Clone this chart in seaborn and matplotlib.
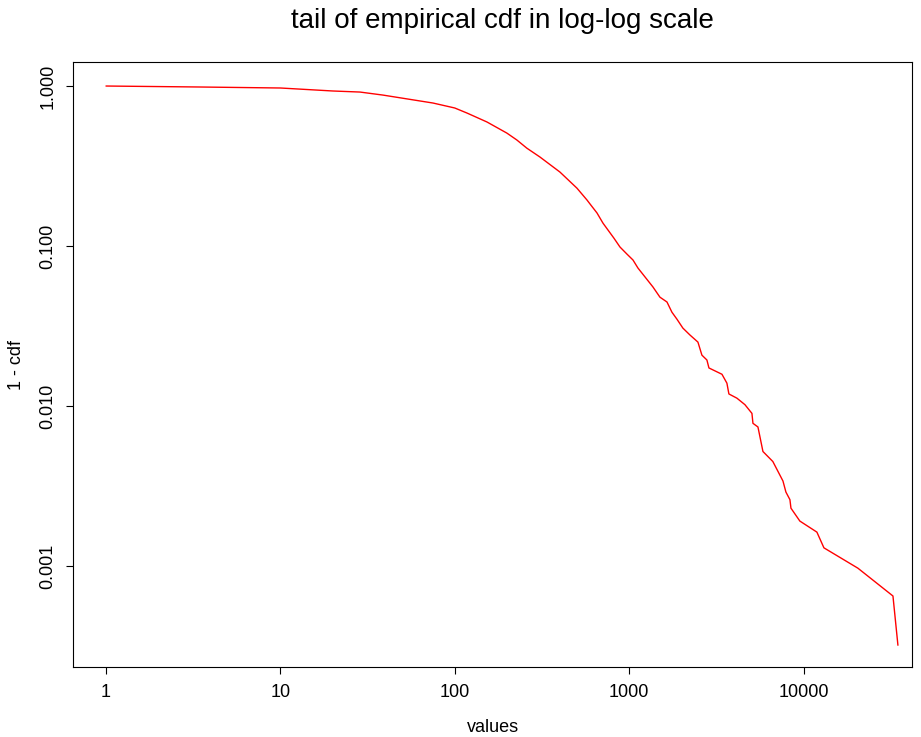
import matplotlib
matplotlib.use("Agg")
import matplotlib.pyplot as plt
import matplotlib.ticker as mticker
import seaborn as sns
import pandas as pd

# Data (values vs 1 - empirical cdf)
values = [1, 3.46, 10.0, 20.0, 28.6, 38.7, 75.0, 100, 117.5, 153, 199, 227, 259,
          308, 401, 502, 573, 604, 654, 708, 756, 818, 886, 971, 1052, 1123, 1369,
          1502, 1648, 1759, 1880, 2033, 2232, 2480, 2614, 2792, 2868, 3406, 3636,
          3733, 4150, 4613, 5060, 5128, 5478, 5851, 6670, 7622, 7925, 8356, 8470,
          9530, 11930, 13090, 20500, 32570, 34780]
one_minus_cdf = [1.000, 0.986, 0.972, 0.931, 0.917, 0.878, 0.783, 0.729, 0.678,
                 0.596, 0.508, 0.460, 0.409, 0.360, 0.290, 0.230, 0.194, 0.180,
                 0.161, 0.139, 0.126, 0.112, 0.0986, 0.0891, 0.0818, 0.0729,
                 0.0555, 0.0479, 0.0447, 0.0386, 0.0349, 0.0307, 0.0278, 0.0251,
                 0.0208, 0.0194, 0.0173, 0.0158, 0.0139, 0.0119, 0.0112, 0.0102,
                 0.0090, 0.0078, 0.0074, 0.0052, 0.0045, 0.0034, 0.0029, 0.0026,
                 0.0023, 0.00191, 0.00163, 0.00130, 0.00097, 0.00065, 0.00032]
x_ticks = [1, 10, 100, 1000, 10000]
x_tick_labels = ["1", "10", "100", "1000", "10000"]
y_ticks = [1.0, 0.1, 0.01, 0.001]
y_tick_labels = ["1.000", "0.100", "0.010", "0.001"]

sns.set_style("ticks")
plt.rcParams["font.family"] = ["Liberation Sans", "DejaVu Sans"]
plt.rcParams["text.color"] = "black"
plt.rcParams["axes.labelcolor"] = "black"

df = pd.DataFrame({"values": values, "one_minus_cdf": one_minus_cdf})

fig = plt.figure(figsize=(9.21, 7.37), dpi=100)
ax = fig.add_axes([73 / 921, 1 - 667 / 737, (912 - 73) / 921, (667 - 62) / 737])
sns.lineplot(data=df, x="values", y="one_minus_cdf", ax=ax, color="red",
             linewidth=1.0, estimator=None, sort=False)
ax.set_xscale("log")
ax.set_yscale("log")
ax.set_xlim(0.647, 41880)
ax.set_ylim(0.000234, 1.413)
ax.xaxis.set_major_locator(mticker.FixedLocator(x_ticks))
ax.xaxis.set_minor_locator(mticker.NullLocator())
ax.set_xticklabels(x_tick_labels)
ax.yaxis.set_major_locator(mticker.FixedLocator(y_ticks))
ax.yaxis.set_minor_locator(mticker.NullLocator())
ax.set_yticklabels(y_tick_labels, rotation=90, va="center")
for s in ax.spines.values():
    s.set_visible(True)
    s.set_color("black")
    s.set_linewidth(0.8)
ax.tick_params(axis="both", length=5, width=0.8, color="black", labelsize=13,
               labelcolor="black", pad=7)
ax.set_xlabel("values", fontsize=13, labelpad=13, color="black")
ax.set_ylabel("1 - cdf", fontsize=13, labelpad=10, color="black")
fig.text(502 / 921, 1 - 21 / 737, "tail of empirical cdf in log-log scale",
         fontsize=20, ha="center", va="center", color="black")
fig.savefig("out.png", dpi=100)
